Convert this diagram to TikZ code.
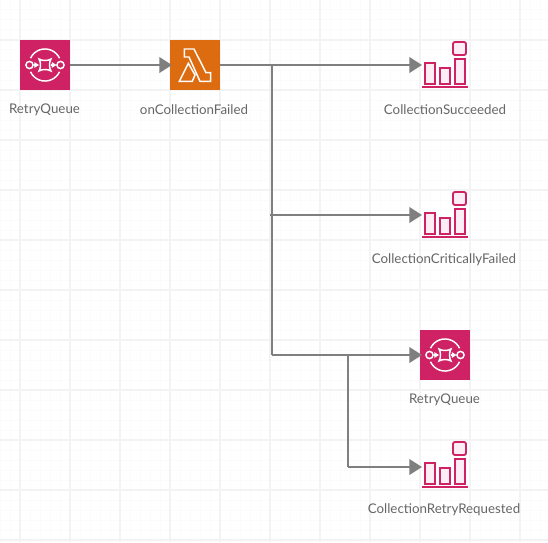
\documentclass[tikz,border=0pt]{standalone}
\usepackage{fontspec}
\setmainfont{Lato}
\usetikzlibrary{arrows.meta}
\definecolor{gridline}{HTML}{F3F3F3}
\definecolor{gridfine}{HTML}{FBFBFB}
\definecolor{wire}{HTML}{7F7F7F}
\definecolor{awspink}{HTML}{CE2264}
\definecolor{awsorange}{HTML}{DD6B10}
\definecolor{labeltext}{HTML}{666666}
\tikzset{
  iconbox/.style={minimum size=37.5pt,inner sep=0pt,outer sep=0pt},
  iconlabel/.style={text=labeltext,font=\fontsize{10pt}{12pt}\selectfont,inner sep=0pt},
  wired/.style={draw=wire,line width=2pt,shorten >=-1.5pt,-{Triangle[length=9.5pt,width=11.5pt]}},
  wireplain/.style={draw=wire,line width=2pt},
  glyph/.style={draw=white,line width=1.1pt},
  barline/.style={draw=awspink,line width=1.4pt,fill=awspink!8}
}
\newcommand{\queueicon}[3]{% name, x, y
  \node[iconbox,fill=awspink] (#1) at (#2,#3) {};
  \begin{scope}[shift={(#1.center)}]
    \draw[glyph] (-14.5,-6.8) arc (205:335:16);
    \draw[glyph] (-14.5,6.8) arc (155:25:16);
    \draw[glyph] (-15.5,0) circle (3.6);
    \draw[glyph] (15.5,0) circle (3.6);
    \draw[glyph] (-6,-6) .. controls (-3,-4) and (3,-4) .. (6,-6)
      .. controls (4,-3) and (4,3) .. (6,6)
      .. controls (3,4) and (-3,4) .. (-6,6)
      .. controls (-4,3) and (-4,-3) .. (-6,-6) -- cycle;
    \draw[glyph,-{Triangle[length=3.4pt,width=4pt]}] (-11.5,0) -- (-6,0);
    \draw[glyph,-{Triangle[length=3.4pt,width=4pt]}] (6,0) -- (11.5,0);
  \end{scope}
}
\newcommand{\metricicon}[3]{% name, x, y
  \node[iconbox] (#1) at (#2,#3) {};
  \begin{scope}[shift={(#1.center)}]
    \draw[barline] (-20,-2) rectangle (-10,19);
    \draw[barline] (-5,3) rectangle (5,19);
    \draw[barline] (10,-6) rectangle (20,19);
    \draw[barline,rounded corners=1.5pt] (8,-23) rectangle (21,-10);
    \draw[draw=awspink,line width=1.4pt] (-23,22) -- (23,22);
  \end{scope}
}
\begin{document}
\begin{tikzpicture}[x=.75pt,y=-.75pt]
  \useasboundingbox (0,0) rectangle (548,542);
  \fill[white] (0,0) rectangle (548,542);
  % grid
  \foreach \x in {0,10,...,540}
    \draw[gridfine,line width=.75pt] (\x,0) -- (\x,542);
  \foreach \y in {0,10,...,540}
    \draw[gridfine,line width=.75pt] (0,\y) -- (548,\y);
  \foreach \x in {20,70,...,520}
    \draw[gridline,line width=1.5pt] (\x,0) -- (\x,542);
  \foreach \y in {40,90,...,540}
    \draw[gridline,line width=1.5pt] (0,\y) -- (548,\y);
  % icons
  \queueicon{retrysrc}{45}{65}
  \node[iconbox,fill=awsorange] (oncollection) at (195,65) {};
  \draw[glyph,line join=miter,shift={(oncollection.center)}]
    (-10.7,-16) -- (-1,-16) -- (11,7.7) -- (15.7,7.7) -- (15.7,16.3) -- (5,16.3)
    -- (-6,-8) -- (-10.7,-8) -- cycle
    (-6.7,-1.7) -- (-15.7,16.3) -- (-2.7,16.3) -- (0,10) -- cycle;
  \metricicon{succeeded}{445}{65}
  \metricicon{critical}{445}{215}
  \queueicon{retrydst}{445}{355}
  \metricicon{requested}{445}{465}
  % labels
  \node[iconlabel] (l1) at (44.5,110) {RetryQueue};
  \node[iconlabel] (l2) at (194,110) {onCollectionFailed};
  \node[iconlabel] (l3) at (445,110) {CollectionSucceeded};
  \node[iconlabel] (l4) at (444,260) {CollectionCriticallyFailed};
  \node[iconlabel] (l5) at (444.5,400) {RetryQueue};
  \node[iconlabel] (l6) at (444,510) {CollectionRetryRequested};
  % connectors
  \coordinate (trunktop) at (272,65);
  \coordinate (trunkmid) at (270,215);
  \coordinate (trunkbot) at (272,355);
  \coordinate (forktop) at (348,355);
  \coordinate (forkbot) at (348,467);
  \draw[wired] (retrysrc.east) -- (oncollection.west);
  \draw[wired] (oncollection.east) -- (trunktop) -- (succeeded.west);
  \draw[wireplain] (trunktop) -- (trunkbot);
  \draw[wired] (trunkmid) -- (critical.west);
  \draw[wired] (trunkbot) -- (retrydst.west);
  \draw[wireplain] (forktop) -- (forkbot);
  \draw[wired] (forkbot) -- (requested.west |- forkbot);
\end{tikzpicture}
\end{document}
